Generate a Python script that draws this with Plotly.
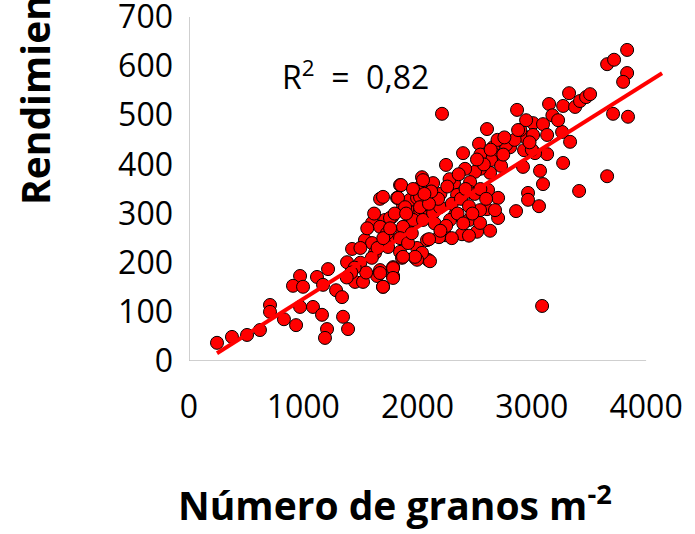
import plotly.graph_objects as go

# Grain number (grains m-2) vs. yield, one point per plot
granos = [
    245, 376, 508, 621, 709, 709, 831, 937, 972, 910, 998, 972, 1085, 1120, 1164, 1208,
    1190, 1217, 1173, 1287, 1339, 1348, 1392, 1383, 1427, 1453, 1523, 1540, 1602, 1646,
    1628, 1672, 1698, 1689, 1786, 1786, 1672, 1602, 1716, 1672, 1777, 1759, 1742, 1847,
    1864, 1864, 1908, 1847, 1821, 1873, 1934, 1978, 1996, 2022, 2039, 2022, 2083, 2083,
    1996, 1978, 2039, 2092,
    2214, 2871, 3151, 3274, 3326, 3379, 3422, 3475, 3510, 3659, 3720, 3834, 3834, 3799,
    3711, 3842, 3011, 3098, 2941, 3011, 3134, 3265, 3335, 3274, 3659, 3414, 3098, 3072,
    2923, 2967, 3134, 3028, 2932, 2810, 2775, 2608, 2538, 2661, 2678, 2643, 2731, 2635,
    2547, 2503, 2398, 2249, 2416, 2319, 2460, 2136, 2048, 1856, 2617, 2705, 2346, 2460,
    2022, 1829, 1698,
    3090, 2862, 3063, 2967, 2705, 2635, 2521, 2451, 2389, 2547, 2608, 2547, 2678, 2328,
    2284, 2241, 2188, 2101, 2109, 2039, 1996, 1978, 1873, 1786, 1786, 1698, 1672, 1961,
    1873, 2048, 2136, 2197, 2022, 1891, 1759, 1733, 1847, 1917,
    2200, 2300, 2380, 2450, 2500, 2150, 2250, 2350, 2420, 2280, 2550, 2600, 2180, 2100,
    2400, 2480, 2550, 2580, 2700, 2750, 2850, 2900, 2950, 3000, 2450, 2300, 2200,
    1500, 1550, 1450, 1600, 1650, 1700, 1560, 1620, 1760, 1800, 1900, 1950, 1500, 1420,
    1380, 2120, 2260, 2360, 2520, 2640, 2760, 2880, 2980, 3180, 3230, 1960, 2060,
]
rendimiento = [
    37, 49, 53, 63, 114, 100, 85, 73, 173, 153, 151, 110, 110, 171, 94, 65,
    47, 187, 155, 144, 130, 90, 65, 201, 228, 161, 161, 246, 240, 173,
    220, 185, 151, 236, 173, 191, 330, 281, 287, 273, 293, 252, 232, 222,
    210, 267, 273, 358, 332, 317, 328, 303, 332, 354, 374, 307, 293, 246,
    230, 210, 216, 206,
    503, 511, 523, 519, 545, 517, 529, 537, 543, 604, 613, 633, 586, 568,
    503, 497, 484, 482, 456, 460, 460, 466, 446, 403, 376, 346, 360, 387,
    395, 342, 421, 423, 429, 435, 440, 472, 442, 435, 419, 409, 397, 383,
    391, 385, 423, 399, 391, 362, 364, 362, 368, 358, 348, 332, 338, 344,
    334, 332, 334,
    112, 305, 315, 328, 291, 265, 263, 287, 258, 281, 309, 307, 307, 297,
    287, 256, 252, 248, 203, 220, 206, 212, 212, 189, 169, 151, 179, 287,
    273, 287, 301, 313, 313, 313, 291, 260, 250, 240,
    340, 320, 330, 315, 340, 280, 275, 300, 350, 370, 350, 330, 330, 320,
    280, 300, 420, 400, 450, 420, 450, 470, 490, 430, 255, 250, 265,
    200, 180, 190, 210, 230, 250, 270, 300, 270, 300, 300, 260, 230, 180,
    170, 345, 355, 380, 410, 430, 455, 470, 445, 500, 490, 350, 340,
]

# Linear trend: rendimiento = pendiente * granos + ordenada
pendiente = 0.1463
ordenada = -20.0
trend_x = [245, 4140]
trend_y = [pendiente * v + ordenada for v in trend_x]

x_ticks = [0, 1000, 2000, 3000, 4000]
y_ticks = [0, 100, 200, 300, 400, 500, 600, 700]
r2_text = "R<sup>2</sup>  =  0,82"

tick_font = dict(family="Open Sans", size=32, color="black")
title_font = dict(family="Open Sans", size=39, color="black")

fig = go.Figure()
fig.add_trace(go.Scatter(
    x=granos, y=rendimiento, mode="markers",
    marker=dict(size=13, color="#FF0000", line=dict(color="black", width=1)),
    showlegend=False, cliponaxis=False,
))
fig.add_trace(go.Scatter(
    x=trend_x, y=trend_y, mode="lines",
    line=dict(color="#FF0000", width=4),
    showlegend=False, cliponaxis=False,
))

fig.update_layout(
    width=695, height=534,
    margin=dict(l=189, r=32, t=17, b=173, autoexpand=False),
    plot_bgcolor="white", paper_bgcolor="white",
    xaxis=dict(
        range=[0, 4148], tickvals=x_ticks, ticktext=[str(v) for v in x_ticks],
        showgrid=False, zeroline=False, showline=False, ticks="",
        tickfont=tick_font, ticklabelstandoff=24, ticklabeloverflow="allow",
        automargin=False,
    ),
    yaxis=dict(
        range=[0, 700], tickvals=y_ticks, ticktext=[str(v) for v in y_ticks],
        showgrid=False, zeroline=False, showline=False, ticks="",
        tickfont=tick_font, ticklabelstandoff=15, ticklabeloverflow="allow",
        automargin=False,
    ),
    shapes=[
        dict(type="line", xref="x", yref="y", x0=0, y0=0, x1=4000, y1=0,
             line=dict(color="#BFBFBF", width=1.5), layer="below"),
        dict(type="line", xref="x", yref="y", x0=0, y0=0, x1=0, y1=700,
             line=dict(color="#BFBFBF", width=1.5), layer="below"),
    ],
    annotations=[
        dict(text=r2_text, xref="x", yref="y", x=1453, y=582,
             showarrow=False, font=dict(family="Open Sans", size=32, color="black")),
        dict(text="<b>Número de granos m<sup>-2</sup></b>", xref="paper", yref="paper",
             x=(395 - 189) / 474, y=(361 - 503) / 344, xanchor="center", yanchor="middle",
             showarrow=False, font=title_font),
        dict(text="<b>Rendimiento (g m<sup>-2</sup>)</b>", xref="paper", yref="paper",
             x=(33 - 189) / 474, y=(361 - 207) / 344, xanchor="center", yanchor="bottom",
             textangle=-90, showarrow=False, font=title_font),
    ],
)

fig.write_html("out.html")
